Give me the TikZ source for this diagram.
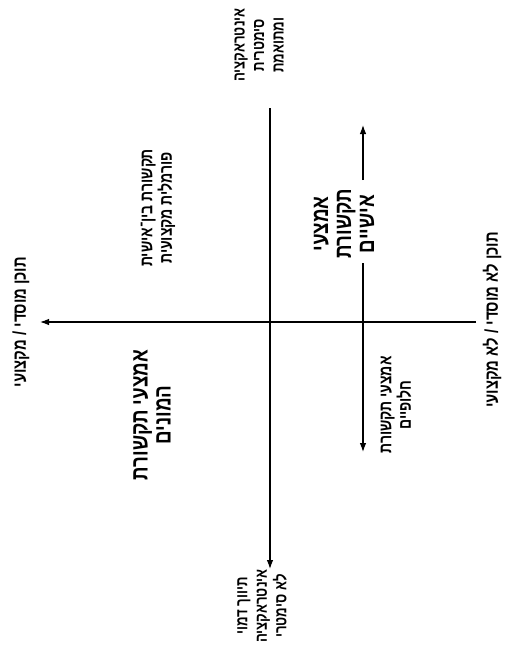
\documentclass[tikz,border=0pt]{standalone}
\usepackage{fontspec}
\usetikzlibrary{arrows.meta}
\TeXXeTstate=1
\newfontfamily\hebfont[Script=Hebrew,FakeStretch=0.8]{Liberation Sans}
\newcommand\hb[1]{\beginR #1\endR}
\tikzset{
  lbl/.style={rotate=90, align=center, inner sep=1pt,
    font=\hebfont\bfseries\fontsize{17.5}{19.5}\selectfont},
  polelbl/.style={lbl, font=\hebfont\bfseries\fontsize{16.5}{19.5}\selectfont},
  sidelbl/.style={lbl, font=\hebfont\bfseries\fontsize{18.5}{19.5}\selectfont},
  biglbl/.style={lbl, font=\hebfont\bfseries\fontsize{23.5}{23}\selectfont},
  axis/.style={line width=1.1pt},
  arr/.style={axis, -{Latex[length=9pt,width=6.5pt]}}
}
\begin{document}
\begin{tikzpicture}[x=1pt,y=-1pt]
  \useasboundingbox (0,0) rectangle (511,646);
  % axis end points
  \coordinate (vtop) at (270,108);
  \coordinate (vbot) at (270,569);
  \coordinate (hright) at (476,322);
  \coordinate (hleft) at (40,322);
  % personal media arrow
  \coordinate (p1) at (363,125);
  \coordinate (p2) at (363,180);
  \coordinate (p3) at (363,263);
  \coordinate (p4) at (363,452);

  \draw[arr] (vtop) -- (vbot);
  \draw[arr] (hright) -- (hleft);
  \draw[arr] (p2) -- (p1);
  \draw[arr] (p3) -- (p4);

  % pole labels
  \node[polelbl] (sym) at (259,45) {\hb{אינטראקציה}\\\hb{סימטרית}\\\hb{ומתואמת}};
  \node[polelbl] (asym) at (262,606) {\hb{תיווך דמוי}\\\hb{אינטראקציה}\\\hb{לא סימטרי}};
  \node[sidelbl] (inst) at (21,322) {\hb{תוכן מוסדי / מקצועי}};
  \node[sidelbl] (noninst) at (492,320) {\hb{תוכן לא מוסדי / לא מקצועי}};

  % quadrant labels
  \node[lbl] (formal) at (158,208) {\hb{תקשורת בין־אישית}\\\hb{פורמלית מקצועית}};
  \node[biglbl] (pers) at (344,224) {\hb{אמצעי}\\\hb{תקשורת}\\\hb{אישיים}};
  \node[biglbl] (mass) at (152,415) {\hb{אמצעי תקשורת}\\\hb{המונים}};
  \node[lbl] (alt) at (396,405) {\hb{אמצעי תקשורת}\\\hb{חלופיים}};
\end{tikzpicture}
\end{document}
